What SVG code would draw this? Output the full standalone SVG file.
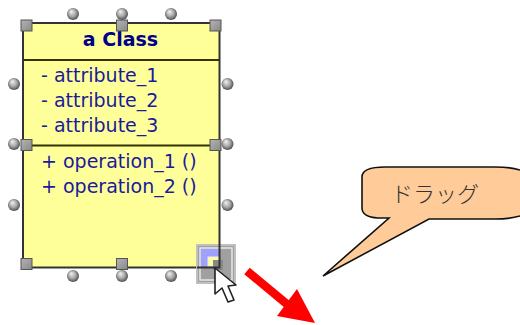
<svg xmlns="http://www.w3.org/2000/svg" width="520" height="325" viewBox="0 0 520 325">
<defs>
<radialGradient id="ball" cx="0.5" cy="0.5" r="0.62" fx="0.35" fy="0.28"><stop offset="0" stop-color="#f4f4f4"/><stop offset="0.5" stop-color="#a8a8a8"/><stop offset="0.82" stop-color="#585858"/><stop offset="1" stop-color="#181818"/></radialGradient>
<linearGradient id="sq" x1="0" y1="0" x2="1" y2="1"><stop offset="0" stop-color="#b4b4b4"/><stop offset="1" stop-color="#888"/></linearGradient>
<g id="b"><circle r="6" fill="url(#ball)"/></g>
<g id="s"><rect x="-5.5" y="-5.5" width="11" height="11" fill="url(#sq)" stroke="#555" stroke-width="1"/></g>
</defs>
<style>
.t{font-family:"DejaVu Sans",Verdana,sans-serif;font-size:19px;fill:#1a1a9c}
.l{fill:none;stroke:#333300;stroke-width:2}
</style>
<rect width="520" height="325" fill="#fff"/>
<g id="class-box">
<rect x="23" y="23" width="196.500" height="244.500" fill="#ffff99" stroke="#333" stroke-width="2"/>
<line class="l" x1="23" y1="60" x2="219.500" y2="60"/>
<line class="l" x1="23" y1="145.500" x2="219.500" y2="145.500"/>
<text x="120.500" y="46" text-anchor="middle" style="font-family:'DejaVu Sans',Verdana,sans-serif;font-size:19px;font-weight:bold;fill:#00008b">a Class</text>
<text class="t" x="41" y="82">- attribute_1</text>
<text class="t" x="41" y="107">- attribute_2</text>
<text class="t" x="41" y="132">- attribute_3</text>
<text class="t" x="41" y="168">+ operation_1 ()</text>
<text class="t" x="41" y="193">+ operation_2 ()</text>
</g>
<g id="handles">
<use href="#b" x="73" y="14"/><use href="#b" x="122" y="14"/><use href="#b" x="171" y="14"/>
<use href="#b" x="14" y="84"/><use href="#b" x="14" y="144"/><use href="#b" x="14" y="205"/>
<use href="#b" x="227.500" y="84"/><use href="#b" x="227.500" y="144"/><use href="#b" x="227.500" y="205"/>
<use href="#b" x="73" y="276"/><use href="#b" x="122" y="276"/><use href="#b" x="171" y="276"/>
<use href="#s" x="26.500" y="25.500"/><use href="#s" x="122" y="25.500"/><use href="#s" x="215.500" y="25.500"/>
<use href="#s" x="26.500" y="145"/><use href="#s" x="215.500" y="145"/>
<use href="#s" x="26.500" y="264"/><use href="#s" x="122" y="264"/>
</g>
<g id="drag-handle">
<rect x="197" y="245" width="38" height="38" fill="#a0a0a0" stroke="#c0c0c0" stroke-width="2"/>
<rect x="200" y="248" width="32" height="32" fill="none" stroke="#e8e8e8" stroke-width="1.500"/>
<rect x="201" y="249" width="18" height="17" fill="#a0a0ff"/>
<rect x="208" y="257" width="11" height="9" fill="#ffff99" stroke="#eee" stroke-width="1"/>
<rect x="213" y="260" width="10" height="10" fill="#888"/>
<path d="M219.500 244V267.500H197" fill="none" stroke="#333" stroke-width="2"/>
</g>
<g id="cursor">
<path d="M215 268V294L222 288L228 302L234 300L228 286L236 285Z" fill="#fff" stroke="#222" stroke-width="1.600" stroke-linejoin="round"/>
</g>
<g id="connectors">
<line x1="247" y1="271" x2="288" y2="305" stroke="#f00" stroke-width="8.500"/>
<path d="M277 316L297 289L315 323Z" fill="#f00"/>
</g>
<g id="callout">
<path d="M520 170Q510 167 495 167H385Q362 167 362 177V208Q362 217 378 218H389L323 276L429 219H495Q510 219 520 216" fill="#ffcc99" stroke="#111" stroke-width="1.600" stroke-linejoin="miter"/>
<text x="435" y="202" text-anchor="middle" style="font-family:'Noto Sans CJK JP','Liberation Serif',serif;font-size:22px;font-weight:300;fill:#333">ドラッグ</text>
</g>
</svg>
